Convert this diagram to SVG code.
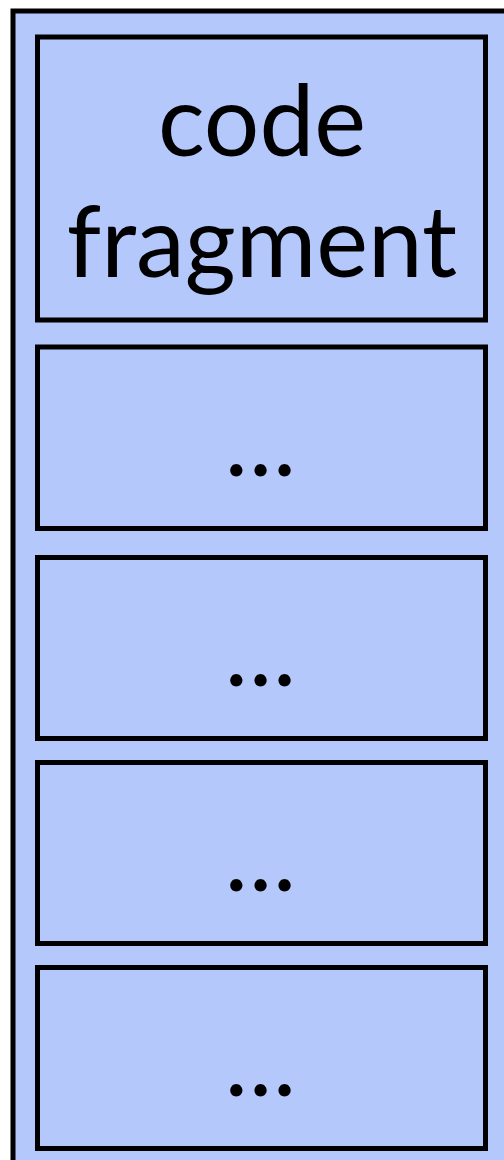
<svg xmlns="http://www.w3.org/2000/svg" width="504" height="1160" viewBox="0 0 504 1160">
<style>
.box{fill:#b4c8fc;stroke:#000;stroke-width:5}
.lbl{font-family:Lato,"Open Sans",sans-serif;font-size:98px;fill:#000;text-anchor:middle}
.dots{font-family:Lato,"Open Sans",sans-serif;font-size:98px;fill:#000;text-anchor:middle;letter-spacing:1px}
</style>
<rect width="504" height="1160" fill="#fff"/>
<g id="container"><rect class="box" x="13" y="11" width="520" height="1180"/></g>
<g id="node1"><rect class="box" x="37.5" y="37" width="448" height="283"/>
<text class="lbl" x="262" y="156">code</text><text class="lbl" x="262" y="277">fragment</text></g>
<g id="node2"><rect class="box" x="37.5" y="347" width="448" height="181.5"/><text class="dots" x="261" y="476">...</text></g>
<g id="node3"><rect class="box" x="37.5" y="557.5" width="448" height="181"/><text class="dots" x="261" y="686">...</text></g>
<g id="node4"><rect class="box" x="37.5" y="762.5" width="448" height="181"/><text class="dots" x="261" y="891">...</text></g>
<g id="node5"><rect class="box" x="37.5" y="967.5" width="448" height="181"/><text class="dots" x="261" y="1096">...</text></g>
<g id="connectors"/>
</svg>
